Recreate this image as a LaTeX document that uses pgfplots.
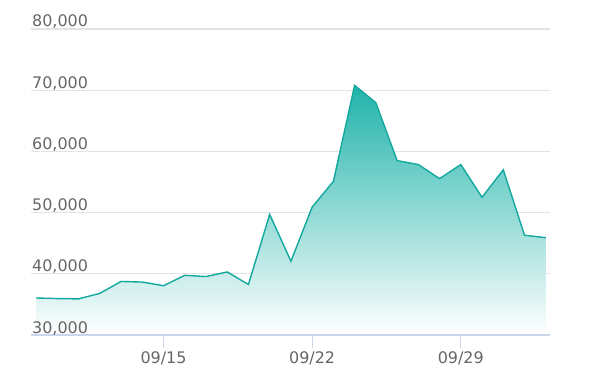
\documentclass[border=0pt]{standalone}
\usepackage{pgfplots}
\usepackage{pgfplotstable}
\pgfplotsset{compat=1.18}
\usepackage{fontspec}
\setmainfont{DejaVu Sans}
\definecolor{linecol}{HTML}{13A89E}
\definecolor{fillcol}{HTML}{08ABA1}
\definecolor{gridcol}{HTML}{E3E3E3}
\definecolor{axiscol}{HTML}{CCD6EB}
\definecolor{labelcol}{HTML}{666666}
\pgfplotsset{
  layers/mylayers/.define layer set={
    axis background,axis grid,axis ticks,pre main,main,axis lines,axis tick labels,axis descriptions,axis foreground
  }{/pgfplots/layers/standard},
}
\pgfplotstableread{
x y
0 36050
1 35950
2 35900
3 36800
4 38750
5 38650
6 38050
7 39750
8 39550
9 40300
10 38250
11 49700
12 42050
13 50900
14 55100
15 70800
16 67950
17 58500
18 57850
19 55550
20 57850
21 52500
22 57000
23 46300
24 45900
}\datatable
\begin{document}
\begin{tikzpicture}
\begin{axis}[
  set layers=mylayers,
  scale only axis, width=519bp, height=306bp,
  xmin=-0.24, xmax=24.2, ymin=30000, ymax=80000,
  axis x line*=bottom, axis y line*=left,
  x axis line style={draw=axiscol, line width=1.2bp, -},
  y axis line style={draw=none},
  ytick={30000,40000,50000,60000,70000,80000},
  ymajorgrids, grid style={gridcol, line width=1.3bp},
  scaled y ticks=false,
  /pgf/number format/1000 sep={,},
  /pgf/number format/assume math mode=true,
  yticklabel style={anchor=base west, inner xsep=1bp, yshift=2bp, xshift=13bp},
  xtick={6,13,20}, xticklabels={09/15,09/22,09/29},
  tick align=outside, major tick length=13bp,
  xtick style={draw=axiscol, line width=1bp},
  ytick style={draw=none},
  ticklabel style={font=\fontsize{16}{19}\selectfont, text=labelcol},
]
\addplot[draw=none, top color=fillcol, bottom color=white, fill opacity=0.9] table[x=x,y=y]{\datatable} \closedcycle;
\addplot[draw=linecol, line width=1.4bp, mark=none] table[x=x,y=y]{\datatable};
\end{axis}
\pgfresetboundingbox
\path[use as bounding box] (current axis.south west) ++(-31bp,-50bp) rectangle ++(590bp,385bp);
\end{tikzpicture}
\end{document}
